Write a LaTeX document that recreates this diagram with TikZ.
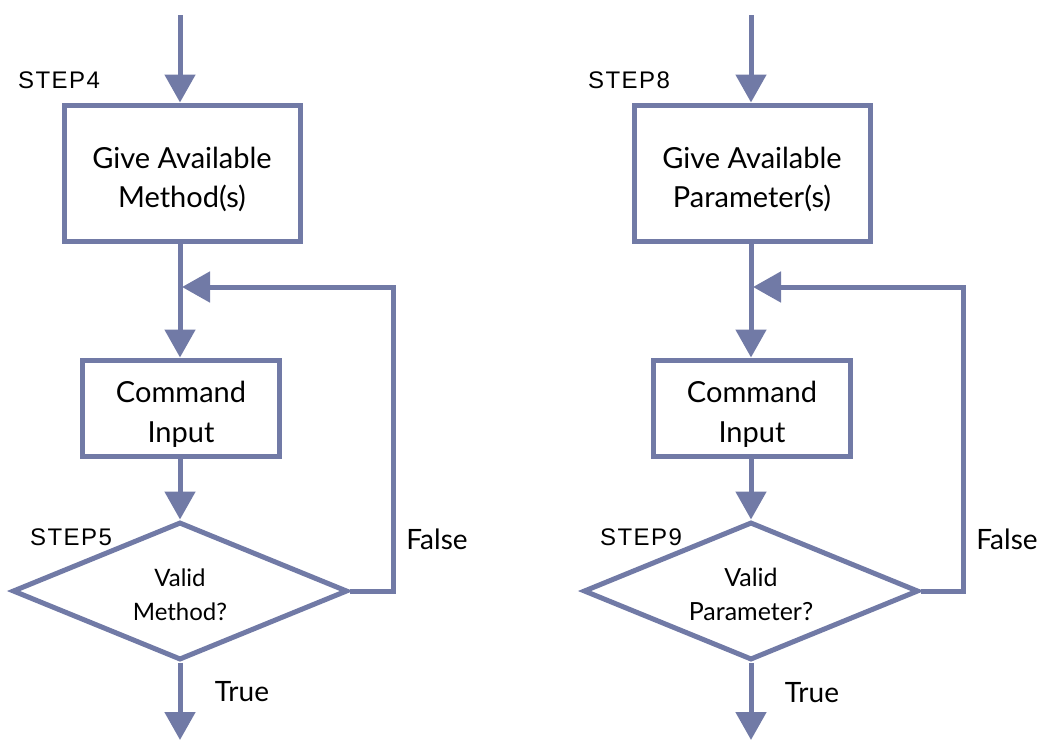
\documentclass[tikz,border=0pt]{standalone}
\usepackage{fontspec}
\setmainfont{Lato}
\newfontfamily\steplabelfont[LetterSpace=6]{Liberation Sans}
\usetikzlibrary{shapes.geometric,arrows.meta}
\definecolor{flowblue}{RGB}{113,122,166}
% invisible strut that lowers a centred two-line label a little
\newcommand{\toplift}[1]{\rule{0pt}{#1}}
\begin{document}
\begin{tikzpicture}[x=1pt,y=-1pt,
  flowline/.style={draw=flowblue,line width=5pt},
  arr/.style={flowline,-{Triangle[width=30pt,length=28pt]}},
  procbox/.style={draw=flowblue,line width=5pt,rectangle,inner sep=0pt,align=center,
    font=\fontsize{29}{39}\selectfont},
  cmdbox/.style={procbox,font=\fontsize{29}{40}\selectfont},
  decision/.style={draw=flowblue,line width=5pt,diamond,inner sep=0pt,align=center,
    aspect=2.43,minimum width=335pt,minimum height=138pt},
  steptag/.style={font=\steplabelfont\fontsize{24}{28}\selectfont,inner sep=0pt},
  branch/.style={font=\fontsize{28}{32}\selectfont,inner sep=0pt}]
\useasboundingbox (0,0) rectangle (1044,740);

% ---- left flow: method selection ----
\coordinate (inA) at (180,15);
\node[procbox,minimum width=236pt,minimum height=136pt] (giveA) at (182,173) {\toplift{34pt}Give Available\\Method(s)};
\node[cmdbox,minimum width=197pt,minimum height=96pt] (cmdA) at (181,408) {\toplift{34pt}Command\\Input};
\node[decision,font=\fontsize{24}{34}\selectfont] (decA) at (180,591) {\toplift{25pt}Valid\\Method?};
\coordinate (joinA) at (182,287);
\coordinate (loopA) at (393,591);
\coordinate (outA) at (180,740);

\draw[arr] (inA) -- (giveA.north -| inA);
\draw[arr] (giveA.south -| inA) -- (cmdA.north -| inA);
\draw[arr] (cmdA.south -| inA) -- (decA.north);
\draw[arr] (decA.east) -- (loopA) |- (joinA);
\draw[arr] (decA.south) -- (outA);

\node[steptag,anchor=west] (stepA1) at (18,80) {STEP4};
\node[steptag,anchor=west] (stepA2) at (30,537) {STEP5};
\node[branch] (falseA) at (437,539) {False};
\node[branch] (trueA) at (242,692) {True};

% ---- right flow: parameter selection ----
\coordinate (inB) at (751,15);
\node[procbox,minimum width=236pt,minimum height=136pt] (giveB) at (752,173) {\toplift{34pt}Give Available\\Parameter(s)};
\node[cmdbox,minimum width=197pt,minimum height=96pt] (cmdB) at (752,408) {\toplift{34pt}Command\\Input};
\node[decision,font=\fontsize{25}{34}\selectfont] (decB) at (751,591) {\toplift{25pt}Valid\\Parameter?};
\coordinate (joinB) at (753,287);
\coordinate (loopB) at (963,591);
\coordinate (outB) at (751,740);

\draw[arr] (inB) -- (giveB.north -| inB);
\draw[arr] (giveB.south -| inB) -- (cmdB.north -| inB);
\draw[arr] (cmdB.south -| inB) -- (decB.north);
\draw[arr] (decB.east) -- (loopB) |- (joinB);
\draw[arr] (decB.south) -- (outB);

\node[steptag,anchor=west] (stepB1) at (588,80) {STEP8};
\node[steptag,anchor=west] (stepB2) at (600,537) {STEP9};
\node[branch] (falseB) at (1007,539) {False};
\node[branch] (trueB) at (812,693) {True};
\end{tikzpicture}
\end{document}
